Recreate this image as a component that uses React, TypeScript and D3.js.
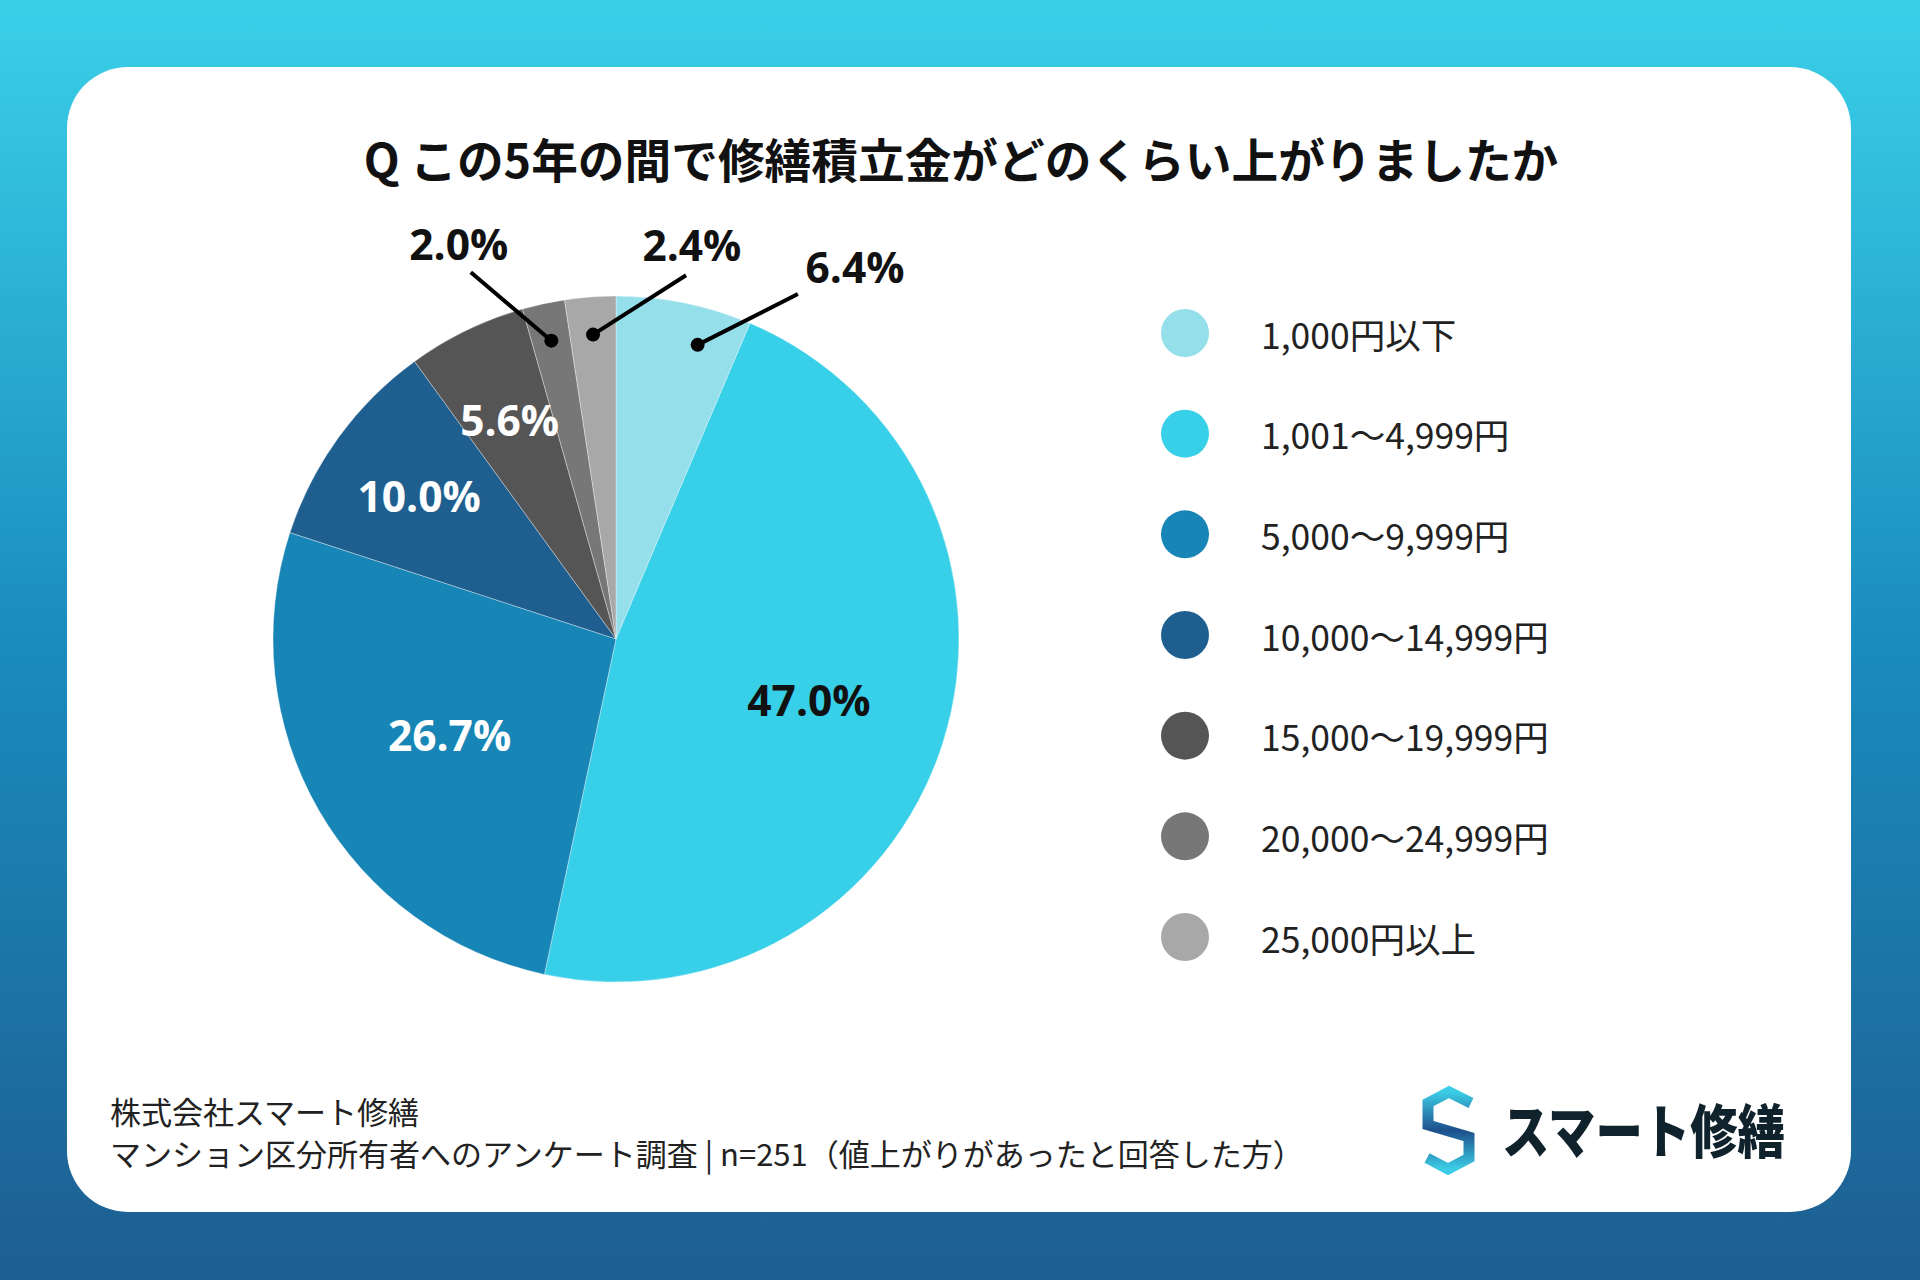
import { arc, pie, scaleLinear, PieArcDatum } from 'd3'

const categories = ['1,000円以下', '1,001～4,999円', '5,000～9,999円', '10,000～14,999円', '15,000～19,999円', '20,000～24,999円', '25,000円以上']
const values = [6.4, 47.0, 26.7, 10.0, 5.6, 2.0, 2.4]
const colors = ['#95dfeb', '#38cfe8', '#1785b6', '#1e5f90', '#555555', '#777777', '#a8a8a8']
const labelColors = ['#111', '#111', '#fff', '#fff', '#fff', '#111', '#111']
const title = 'Q この5年の間で修繕積立金がどのくらい上がりましたか'
const footer = ['株式会社スマート修繕', 'マンション区分所有者へのアンケート調査 | n=251（値上がりがあったと回答した方）']

// where labels sit: inside labels use radius factor, callouts use angles + radii
const insideR: Record<number, number> = { 1: 0.59, 2: 0.56, 3: 0.71, 4: 0.71 }
const callouts: Record<number, { lineAng: number; textAng: number; rLine: number; rText: number }> = {
  0: { lineAng: 27.8, textAng: 32.7, rLine: 1.137, rText: 1.29 },
  5: { lineAng: -21.6, textAng: -21.7, rLine: 1.15, rText: 1.24 },
  6: { lineAng: 10.9, textAng: 10.9, rLine: 1.08, rText: 1.17 },
}

const W = 1920
const H = 1280
const cx = 616
const cy = 639
const R = 343
const numFont = '"Open Sans", "Noto Sans CJK JP", sans-serif'
const jpFont = '"Noto Sans CJK JP", "Open Sans", sans-serif'

const polar = (deg: number, r: number) => {
  const a = (deg * Math.PI) / 180
  return [cx + r * Math.sin(a), cy - r * Math.cos(a)]
}

export default function App() {
  const arcs = pie<number>().sort(null).value(d => d)(values)
  const arcGen = arc<PieArcDatum<number>>().innerRadius(0).outerRadius(R)
  const legendY = scaleLinear().domain([0, categories.length - 1]).range([333, 937])

  return (
    <svg width={W} height={H} style={{ position: 'absolute', left: 0, top: 0 }}>
      <defs>
        <linearGradient id='bg' x1='0' y1='0' x2='0' y2='1'>
          <stop offset='0' stopColor='#3ad0e8' />
          <stop offset='0.5' stopColor='#1a8cbe' />
          <stop offset='1' stopColor='#1e5e91' />
        </linearGradient>
        <linearGradient id='logo' x1='0' y1='0' x2='0' y2='1'>
          <stop offset='0' stopColor='#3ccde6' />
          <stop offset='0.5' stopColor='#1d4f8a' />
          <stop offset='1' stopColor='#3ccde6' />
        </linearGradient>
      </defs>
      <rect width={W} height={H} fill='url(#bg)' />
      <rect x={67} y={67} width={1784} height={1145} rx={61} fill='#fff' />

      <text x={961} y={178} textAnchor='middle' fontFamily={jpFont} fontWeight={700} fontSize={46.7} fill='#111'>
        {title}
      </text>

      <g>
        {arcs.map((a, i) => (
          <path key={i} d={arcGen(a) ?? ''} transform={`translate(${cx},${cy})`} fill={colors[i]} stroke='#fff' strokeOpacity={0.35} strokeWidth={1} />
        ))}
      </g>

      {arcs.map((a, i) => {
        const mid = (((a.startAngle + a.endAngle) / 2) * 180) / Math.PI
        const txt = `${values[i].toFixed(1)}%`
        if (insideR[i] !== undefined) {
          const [x, y] = polar(mid, R * insideR[i])
          return (
            <text key={i} x={x} y={y} textAnchor='middle' dominantBaseline='central' fontFamily={numFont} fontWeight={700} fontSize={42.5} fill={labelColors[i]}>
              {txt}
            </text>
          )
        }
        const c = callouts[i]
        const [dx, dy] = polar(mid + (i === 0 ? 4 : 0), R * 0.89)
        const [lx, ly] = polar(c.lineAng, R * c.rLine)
        const [tx, ty] = polar(c.textAng, R * c.rText)
        return (
          <g key={i}>
            <line x1={dx} y1={dy} x2={lx} y2={ly} stroke='#000' strokeWidth={4} />
            <circle cx={dx} cy={dy} r={7} fill='#000' />
            <text x={tx} y={ty} textAnchor='middle' dominantBaseline='central' fontFamily={numFont} fontWeight={700} fontSize={42.5} fill='#111'>
              {txt}
            </text>
          </g>
        )
      })}

      <g>
        {categories.map((c, i) => (
          <g key={c} transform={`translate(1185,${legendY(i)})`}>
            <circle r={24} fill={colors[i]} />
            <text x={76} y={0} dominantBaseline='central' fontFamily={jpFont} fontSize={35.5} fill='#222'>
              {c}
            </text>
          </g>
        ))}
      </g>

      {footer.map((f, i) => (
        <text key={i} x={110} y={1124 + i * 42} fontFamily={jpFont} fontSize={31} fill='#222'>
          {f}
        </text>
      ))}

      <g transform='translate(1422,1088)'>
        <polyline points='49,15 27,4 6,15 6,37 47,49 47,70 26,81 5,70' fill='none' stroke='url(#logo)' strokeWidth={11} strokeLinejoin='miter' />
      </g>
      <text x={1502} y={1153} fontFamily={jpFont} fontWeight={900} fontSize={58} fill='#10222b' textLength={283} lengthAdjust='spacingAndGlyphs'>
        スマート修繕
      </text>
    </svg>
  )
}
